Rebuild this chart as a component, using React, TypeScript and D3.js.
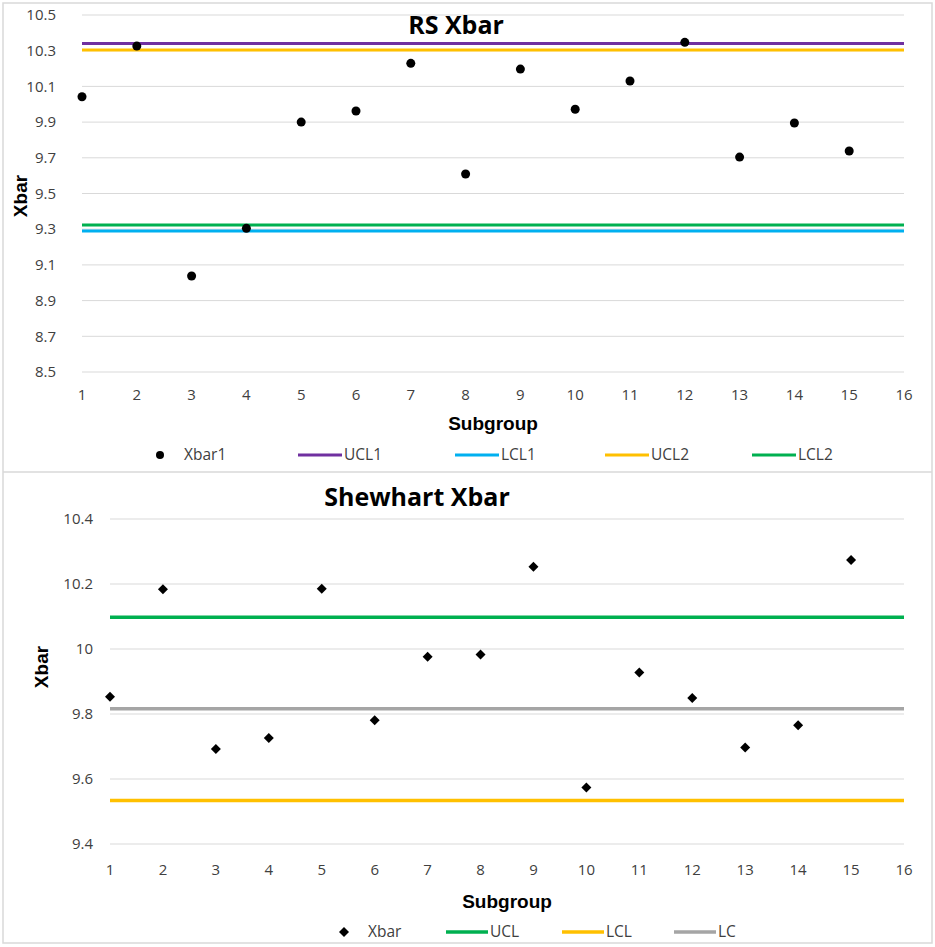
import React from "react";
import * as d3 from "d3";

const subgroups = [1, 2, 3, 4, 5, 6, 7, 8, 9, 10, 11, 12, 13, 14, 15];
const xbar1 = [10.042, 10.326, 9.038, 9.305, 9.9, 9.962, 10.229, 9.609, 10.197, 9.972, 10.13, 10.347, 9.704, 9.895, 9.738];
const rsLimits = [
  { name: "UCL1", value: 10.341, color: "#7030A0" },
  { name: "LCL1", value: 9.29, color: "#00B0F0" },
  { name: "UCL2", value: 10.304, color: "#FFC000" },
  { name: "LCL2", value: 9.323, color: "#00B050" },
];
const rsTicks = [8.5, 8.7, 8.9, 9.1, 9.3, 9.5, 9.7, 9.9, 10.1, 10.3, 10.5];

const xbar = [9.853, 10.184, 9.692, 9.726, 10.185, 9.781, 9.976, 9.983, 10.253, 9.574, 9.928, 9.849, 9.697, 9.765, 10.274];
const shLimits = [
  { name: "UCL", value: 10.098, color: "#00B050" },
  { name: "LCL", value: 9.534, color: "#FFC000" },
  { name: "LC", value: 9.816, color: "#A5A5A5" },
];
const shTicks = [9.4, 9.6, 9.8, 10, 10.2, 10.4];
const xTicks = d3.range(1, 17);

const FONT = "'Open Sans', 'Noto Sans', sans-serif";
const BOLD = "'Liberation Sans', Arial, sans-serif";

export default function App() {
  const x1 = d3.scaleLinear().domain([1, 16]).range([82, 904]);
  const y1 = d3.scaleLinear().domain([8.5, 10.5]).range([372, 15]);
  const x2 = d3.scaleLinear().domain([1, 16]).range([110, 904]);
  const y2 = d3.scaleLinear().domain([9.4, 10.4]).range([844, 519]);

  const diamond = d3.symbol().type(d3.symbolSquare).size(50)() as string;

  const topLegendX = [160, 298, 455, 605, 752];
  const botLegendX = [344, 446, 562, 674];

  return (
    <svg
      width={935}
      height={947}
      style={{ position: "absolute", left: 0, top: 0, background: "#fff" }}
      fontFamily={FONT}
    >
      <rect x={0} y={0} width={935} height={947} fill="#fff" />
      <rect x={3} y={3} width={929} height={940} fill="none" stroke="#d9d9d9" strokeWidth={1.5} />
      <line x1={3} x2={932} y1={472} y2={472} stroke="#d9d9d9" strokeWidth={1.5} />

      {/* ===== TOP CHART ===== */}
      {rsTicks.map((t) => (
        <g key={"g1" + t}>
          <line x1={x1(1)} x2={x1(16)} y1={y1(t)} y2={y1(t)} stroke="#d9d9d9" strokeWidth={1} />
          <text x={56} y={y1(t)} dy="0.35em" textAnchor="end" fontSize={15} fill="#404040">
            {t.toFixed(1)}
          </text>
        </g>
      ))}
      {xTicks.map((t) => (
        <text key={"x1" + t} x={x1(t)} y={395} dy="0.35em" textAnchor="middle" fontSize={15} fill="#404040">
          {t}
        </text>
      ))}
      {rsLimits.map((l) => (
        <line key={l.name} x1={x1(1)} x2={x1(16)} y1={y1(l.value)} y2={y1(l.value)} stroke={l.color} strokeWidth={3} />
      ))}
      {xbar1.map((v, i) => (
        <circle key={"p1" + i} cx={x1(subgroups[i])} cy={y1(v)} r={4.5} fill="#000" />
      ))}
      <text x={456} y={25} dy="0.35em" textAnchor="middle" fontSize={25} fontWeight="bold" fill="#000">
        RS Xbar
      </text>
      <text
        transform={`translate(20,196) rotate(-90)`}
        textAnchor="middle"
        dy="0.35em"
        fontSize={19}
        fontWeight="bold"
        fontFamily={BOLD}
        fill="#000"
      >
        Xbar
      </text>
      <text x={493} y={423} dy="0.35em" textAnchor="middle" fontSize={19} fontWeight="bold" fontFamily={BOLD} fill="#000">
        Subgroup
      </text>
      <circle cx={topLegendX[0]} cy={455} r={4} fill="#000" />
      <text x={topLegendX[0] + 24} y={455} dy="0.35em" fontSize={15.5} fill="#404040">Xbar1</text>
      {rsLimits.map((l, i) => (
        <g key={"lg1" + l.name}>
          <line x1={topLegendX[i + 1]} x2={topLegendX[i + 1] + 44} y1={455} y2={455} stroke={l.color} strokeWidth={3} />
          <text x={topLegendX[i + 1] + 46} y={455} dy="0.35em" fontSize={15.5} fill="#404040">{l.name}</text>
        </g>
      ))}

      {/* ===== BOTTOM CHART ===== */}
      {shTicks.map((t) => (
        <g key={"g2" + t}>
          <line x1={x2(1)} x2={x2(16)} y1={y2(t)} y2={y2(t)} stroke="#d9d9d9" strokeWidth={1} />
          <text x={93} y={y2(t)} dy="0.35em" textAnchor="end" fontSize={15} fill="#404040">
            {String(t)}
          </text>
        </g>
      ))}
      {xTicks.map((t) => (
        <text key={"x2" + t} x={x2(t)} y={870} dy="0.35em" textAnchor="middle" fontSize={15} fill="#404040">
          {t}
        </text>
      ))}
      {shLimits.map((l) => (
        <line key={l.name} x1={x2(1)} x2={x2(16)} y1={y2(l.value)} y2={y2(l.value)} stroke={l.color} strokeWidth={3.5} />
      ))}
      {xbar.map((v, i) => (
        <path key={"p2" + i} d={diamond} transform={`translate(${x2(subgroups[i])},${y2(v)}) rotate(45)`} fill="#000" />
      ))}
      <text x={417} y={497} dy="0.35em" textAnchor="middle" fontSize={25} fontWeight="bold" fill="#000">
        Shewhart Xbar
      </text>
      <text
        transform={`translate(41,667) rotate(-90)`}
        textAnchor="middle"
        dy="0.35em"
        fontSize={19}
        fontWeight="bold"
        fontFamily={BOLD}
        fill="#000"
      >
        Xbar
      </text>
      <text x={507} y={901} dy="0.35em" textAnchor="middle" fontSize={19} fontWeight="bold" fontFamily={BOLD} fill="#000">
        Subgroup
      </text>
      <path d={diamond} transform={`translate(${botLegendX[0]},932) rotate(45)`} fill="#000" />
      <text x={botLegendX[0] + 24} y={932} dy="0.35em" fontSize={15.5} fill="#404040">Xbar</text>
      {shLimits.map((l, i) => (
        <g key={"lg2" + l.name}>
          <line x1={botLegendX[i + 1]} x2={botLegendX[i + 1] + 42} y1={932} y2={932} stroke={l.color} strokeWidth={3.5} />
          <text x={botLegendX[i + 1] + 44} y={932} dy="0.35em" fontSize={15.5} fill="#404040">{l.name}</text>
        </g>
      ))}
    </svg>
  );
}
